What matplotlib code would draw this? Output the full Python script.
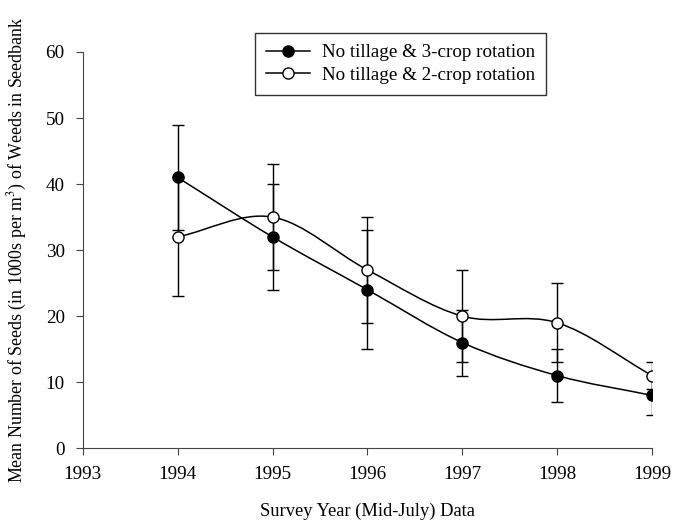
import numpy as np
import matplotlib
matplotlib.use('Agg')
import matplotlib.pyplot as plt
from matplotlib.path import Path
from matplotlib.patches import PathPatch
from matplotlib.lines import Line2D

years = [1994, 1995, 1996, 1997, 1998, 1999]
three_crop = [41, 32, 24, 16, 11, 8]
three_crop_err = [8, 8, 9, 5, 4, 3]
two_crop = [32, 35, 27, 20, 19, 11]
two_crop_err = [9, 8, 8, 7, 6, 2]
labels = ['No tillage & 3-crop rotation', 'No tillage & 2-crop rotation']

plt.rcParams['font.family'] = ['Liberation Serif', 'DejaVu Serif']
plt.rcParams['mathtext.fontset'] = 'stix'


def smooth_path(x, y):
    # Catmull-Rom tangents turned into cubic Bezier segments
    x = np.asarray(x, dtype=float)
    y = np.asarray(y, dtype=float)
    n = len(x)
    dx = np.zeros(n)
    dy = np.zeros(n)
    for i in range(n):
        a = max(i - 1, 0)
        b = min(i + 1, n - 1)
        dx[i] = (x[b] - x[a]) / (b - a)
        dy[i] = (y[b] - y[a]) / (b - a)
    verts = [(x[0], y[0])]
    codes = [Path.MOVETO]
    for i in range(n - 1):
        verts += [(x[i] + dx[i] / 3, y[i] + dy[i] / 3),
                  (x[i + 1] - dx[i + 1] / 3, y[i + 1] - dy[i + 1] / 3),
                  (x[i + 1], y[i + 1])]
        codes += [Path.CURVE4] * 3
    return Path(verts, codes)


fig = plt.figure(figsize=(6.73, 5.2), dpi=100)
ax = fig.add_axes([0.123, 0.138, 0.846, 0.762])

for vals, errs, face in [(three_crop, three_crop_err, 'black'),
                         (two_crop, two_crop_err, 'white')]:
    ax.add_patch(PathPatch(smooth_path(years, vals), fill=False, edgecolor='black', lw=1.1, zorder=2))
    ax.errorbar(years, vals, yerr=errs, fmt='none', ecolor='black', elinewidth=1.0,
                capsize=4, capthick=1.0, zorder=1)
    ax.plot(years, vals, 'o', ls='none', mfc=face, mec='black', mew=1.0, ms=8, zorder=3)

ax.set_xlim(1993, 1999)
ax.set_ylim(0, 60)
ax.set_xticks(range(1993, 2000))
ax.set_yticks(range(0, 61, 10))
ax.spines['top'].set_visible(False)
ax.spines['right'].set_visible(False)
for s in ['left', 'bottom']:
    ax.spines[s].set_color('#444444')
ax.tick_params(direction='out', length=5, labelsize=13.8, color='#444444', pad=8)
ax.set_xlabel('Survey Year (Mid-July) Data', fontsize=13.3, labelpad=14)
ax.set_ylabel('Mean Number of Seeds (in 1000s per m$^3$) of Weeds in Seedbank', fontsize=12.9, labelpad=12)

handles = [Line2D([], [], color='black', lw=1.1, marker='o', mfc='black', mec='black', ms=8),
           Line2D([], [], color='black', lw=1.1, marker='o', mfc='white', mec='black', ms=8)]
leg = fig.legend(handles, labels, loc='upper left', bbox_to_anchor=(0.379, 0.937),
                 borderaxespad=0, fontsize=13.7, frameon=True, fancybox=False, edgecolor='black',
                 handlelength=2.3, handletextpad=0.6, borderpad=0.6, labelspacing=0.25)
leg.get_frame().set_linewidth(1.0)

fig.savefig('out.png', dpi=100)
